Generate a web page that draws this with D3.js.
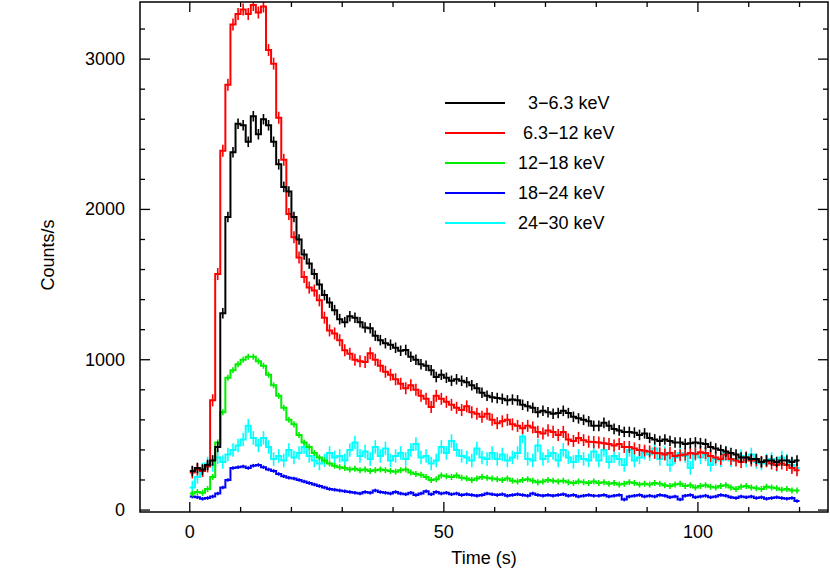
<!DOCTYPE html>
<html><head><meta charset="utf-8">
<script src="https://cdn.jsdelivr.net/npm/d3@7"></script>
<style>body{margin:0;background:#fff}text{font-family:"Liberation Sans",Arial,sans-serif}</style>
</head><body><svg id="c" width="830" height="571"></svg>
<script>
const black=[260,280,270,300,330,420,1310,1950,2380,2570,2560,2450,2620,2500,2600,2560,2450,2300,2150,2120,1950,1800,1700,1640,1570,1500,1430,1380,1330,1270,1250,1290,1280,1250,1215,1210,1160,1130,1110,1100,1080,1060,1065,1020,1000,970,960,930,885,900,880,860,870,860,850,830,810,780,760,750,745,740,730,735,730,700,690,680,650,660,650,640,645,660,645,620,610,600,590,560,560,580,560,540,530,520,520,515,500,510,480,470,460,470,460,450,450,440,445,450,445,440,420,410,400,390,380,370,350,350,340,340,320,330,330,320,330,330,320,330];
const red=[250,270,260,290,730,1570,2390,2830,3230,3300,3330,3300,3360,3310,3350,3060,2970,2610,2330,1970,1815,1680,1550,1480,1460,1395,1280,1195,1175,1130,1063,1040,1000,990,985,1043,1000,960,920,900,870,840,810,830,800,760,740,685,760,740,720,700,680,665,690,650,640,620,640,600,578,590,600,570,560,545,560,550,520,510,530,520,500,520,470,460,480,465,455,452,450,445,440,430,440,420,420,410,400,395,390,380,378,370,380,360,365,370,380,375,385,380,360,350,340,370,340,330,320,350,330,330,320,325,310,300,310,300,280,265];
const green=[110,120,115,140,220,450,650,880,930,970,1000,1020,1020,990,960,900,830,760,680,600,570,500,450,420,380,350,330,310,295,285,280,270,275,265,270,260,265,270,265,260,255,265,270,250,240,235,220,200,205,230,225,220,230,215,210,200,210,220,215,210,205,200,210,195,190,200,205,195,185,190,200,195,190,195,185,180,190,185,180,190,180,185,175,180,170,175,185,180,170,175,170,180,175,165,160,170,175,160,165,150,160,165,155,150,160,165,150,140,155,160,150,145,140,155,150,145,135,140,130,130];
const blue=[90,85,75,80,90,110,150,200,280,285,290,280,295,300,285,270,260,240,225,215,210,200,190,180,170,160,150,140,135,130,125,120,115,110,120,115,130,120,115,110,120,110,105,115,100,110,125,105,120,110,115,105,110,100,105,100,95,100,110,105,100,105,95,100,105,100,95,110,100,95,100,95,100,105,95,100,90,95,100,95,95,100,90,95,100,70,90,95,100,90,95,90,100,95,85,90,70,95,100,85,90,95,85,90,100,95,85,80,90,85,90,80,85,75,80,85,80,75,80,60];
const cyan=[150,220,270,310,300,350,320,370,400,430,470,560,480,430,480,420,340,360,330,400,350,380,420,360,330,310,330,380,350,360,330,400,450,360,390,340,420,360,410,330,360,380,340,400,440,350,360,310,330,420,380,460,400,360,350,330,410,350,340,380,340,370,330,350,380,490,340,330,430,340,360,380,330,400,350,320,360,340,330,390,330,400,320,360,340,300,400,330,350,380,370,410,340,380,300,350,380,360,280,370,350,370,300,340,330,380,330,340,360,330,370,320,310,330,340,300,350,330,300,280];
const labels=["  3\u22126.3 keV"," 6.3\u221212 keV","12\u221218 keV","18\u221224 keV","24\u221230 keV"];
const colors=["#000","#ff0000","#00ee00","#0000ff","#00ffff"];
const errs=[35,40,20,12,45];
const series=[black,red,green,blue,cyan];
const xTicks=[0,50,100], yTicks=[0,1000,2000,3000];

const svg=d3.select("#c");
const L=140,R=828,T=2,B=512;
const x=d3.scaleLinear().domain([-9.8,125.6]).range([L,R]);
const y=d3.scaleLinear().domain([-13,3380]).range([B,T]);
svg.append("clipPath").attr("id","cp").append("rect").attr("x",L).attr("y",T).attr("width",R-L).attr("height",B-T);
const g=svg.append("g").attr("clip-path","url(#cp)");
// draw order: cyan, blue, green, red, black? keep black on top
[4,3,2,1,0].forEach(k=>{
  const d=series[k];
  const pts=d.map((v,i)=>[i,v]); pts.push([d.length,d[d.length-1]]);
  g.append("path").attr("d",d3.line().x(p=>x(p[0])).y(p=>y(p[1])).curve(d3.curveStepAfter)(pts))
   .attr("fill","none").attr("stroke",colors[k]).attr("stroke-width",2);
  g.selectAll(null).data(d).enter().append("line")
   .attr("x1",(v,i)=>x(i+0.5)).attr("x2",(v,i)=>x(i+0.5))
   .attr("y1",v=>y(v-errs[k])).attr("y2",v=>y(v+errs[k]))
   .attr("stroke",colors[k]).attr("stroke-width",1.6);
});
// frame
svg.append("rect").attr("x",L).attr("y",T).attr("width",R-L).attr("height",B-T).attr("fill","none").attr("stroke","#000").attr("stroke-width",1.5);
// ticks
const tk=svg.append("g").attr("stroke","#000").attr("stroke-width",1.3);
d3.range(-0,121,10).forEach(t=>{const len=xTicks.includes(t)?10:5;
  tk.append("line").attr("x1",x(t)).attr("x2",x(t)).attr("y1",B).attr("y2",B-len);
  tk.append("line").attr("x1",x(t)).attr("x2",x(t)).attr("y1",T).attr("y2",T+len);});
d3.range(0,3381,200).forEach(v=>{const len=yTicks.includes(v)?10:5;
  tk.append("line").attr("x1",L).attr("x2",L+len).attr("y1",y(v)).attr("y2",y(v));
  tk.append("line").attr("x1",R).attr("x2",R-len).attr("y1",y(v)).attr("y2",y(v));});
xTicks.forEach(t=>svg.append("text").attr("x",x(t)).attr("y",538).attr("text-anchor","middle").attr("font-size",18).text(t));
yTicks.forEach(v=>svg.append("text").attr("x",125).attr("y",y(v)+6).attr("text-anchor","end").attr("font-size",18).text(v));
svg.append("text").attr("x",484).attr("y",564).attr("text-anchor","middle").attr("font-size",18).text("Time (s)");
svg.append("text").attr("transform","translate(54,255) rotate(-90)").attr("text-anchor","middle").attr("font-size",18).text("Counts/s");
labels.forEach((s,i)=>{const yy=103+i*30;
  svg.append("line").attr("x1",445).attr("x2",505).attr("y1",yy).attr("y2",yy).attr("stroke",colors[i]).attr("stroke-width",2);
  svg.append("text").attr("x",518).attr("y",yy+6).attr("font-size",18).attr("xml:space","preserve").style("white-space","pre").text(s);});
</script></body></html>
